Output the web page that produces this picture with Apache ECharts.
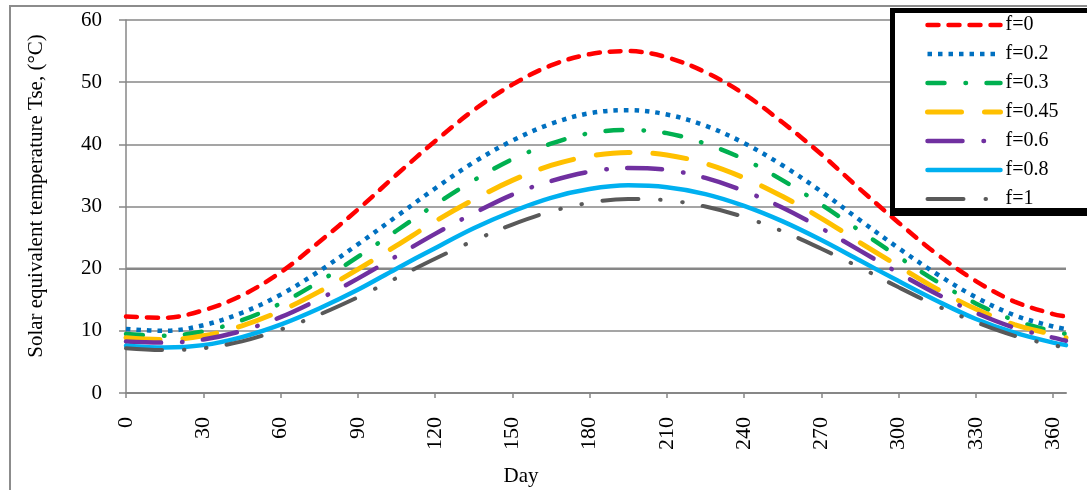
<!DOCTYPE html>
<html><head><meta charset="utf-8">
<script src="https://cdn.jsdelivr.net/npm/echarts@6/dist/echarts.min.js"></script>
<style>html,body{margin:0;padding:0;background:#fff}#c{width:1087px;height:490px}</style>
</head><body><div id="c"></div>
<script>
// ---- data ----
const days = [0,15,30,45,60,75,90,105,120,135,150,165,180,195,210,225,240,255,270,285,300,315,330,345,360,365];
const f0   = [12.3,12.1,13.3,15.7,19.4,24.3,29.5,35.1,40.5,45.5,49.6,52.7,54.5,55.0,54.0,51.6,48.1,43.5,38.4,32.8,27.4,22.3,18.0,14.7,12.7,12.3];
const f02  = [10.3,10.0,10.9,12.9,15.8,19.6,23.9,28.4,32.9,37.1,40.6,43.3,45.0,45.5,44.8,43.0,40.2,36.6,32.4,27.8,23.3,19.1,15.4,12.5,10.7,10.3];
const f03  = [9.5,9.2,9.9,11.7,14.4,17.9,21.9,26.1,30.3,34.2,37.6,40.1,41.8,42.3,41.8,40.1,37.6,34.2,30.3,26.1,21.9,17.9,14.4,11.7,9.9,9.5];
const f045 = [8.9,8.6,9.2,10.8,13.2,16.3,19.9,23.7,27.6,31.1,34.2,36.6,38.1,38.7,38.3,36.9,34.6,31.6,28.1,24.2,20.4,16.7,13.5,11.0,9.4,8.9];
const f06  = [8.3,8.1,8.6,10.0,12.2,15.1,18.4,22.0,25.6,28.9,31.9,34.1,35.6,36.2,35.9,34.6,32.5,29.8,26.5,22.9,19.3,15.9,12.9,10.5,8.9,8.4];
const f08  = [7.6,7.3,7.7,9.0,11.0,13.6,16.6,20.0,23.3,26.5,29.2,31.4,32.8,33.4,33.1,32.0,30.1,27.6,24.6,21.3,18.0,14.8,11.9,9.7,8.1,7.7];
const f1   = [7.2,6.9,7.2,8.3,10.2,12.6,15.4,18.5,21.6,24.5,27.1,29.2,30.6,31.2,31.0,30.0,28.3,26.0,23.2,20.2,17.0,14.0,11.4,9.2,7.7,7.3];
const seriesNames = ['f=0','f=0.2','f=0.3','f=0.45','f=0.6','f=0.8','f=1'];
const dayTicks = [0,30,60,90,120,150,180,210,240,270,300,330,360];
const dayRange = [0,365];
const tempRange = [0,60];
const tempStep = 10;
const emphasisGridValue = 20;
const yTitle = 'Solar equivalent temperature Tse, (°C)';
const xTitle = 'Day';

// ---- styling ----
const valueSets = [f0,f02,f03,f045,f06,f08,f1];
const styles = [
  {color:'#FF0000', width:4.5, type:[11,10], cap:'round'},
  {color:'#0070C0', width:4.5, type:[4.5,6], cap:'butt'},
  {color:'#00B050', width:4.5, type:[17,21,0.5,20.5], cap:'round'},
  {color:'#FFC000', width:5,   type:[34,23], cap:'round'},
  {color:'#7030A0', width:4.5, type:[35,21,0.5,20.5], cap:'round'},
  {color:'#00B0F0', width:4.5, type:'solid', cap:'round'},
  {color:'#595959', width:4,   type:[36,22,0.5,21.5,0.5,20.5], cap:'round'}
];
const serif = '"Liberation Serif","Times New Roman",serif';
const gridGray = '#878787';

const series = valueSets.map((vals,i)=>({
  name: seriesNames[i], type:'line', smooth:0.35, symbol:'none', showSymbol:false,
  data: days.map((d,k)=>[d, vals[k]]),
  lineStyle:{color:styles[i].color, width:styles[i].width, type:styles[i].type, cap:styles[i].cap},
  itemStyle:{color:styles[i].color},
  z: 3, silent:true
}));
series.unshift({
  name:'grid20', type:'line', symbol:'none', silent:true, z:1,
  data: dayRange.map(d=>[d, emphasisGridValue]),
  lineStyle:{color:gridGray, width:2.5}
});

const chart = echarts.init(document.getElementById('c'), null, {renderer:'canvas'});
chart.setOption({
  animation:false,
  backgroundColor:'#fff',
  grid:{left:126, top:20, right:21, bottom:97},
  xAxis:{
    type:'value', min:dayRange[0], max:dayRange[1], interval:30,
    axisLine:{show:true, lineStyle:{color:gridGray, width:2}},
    axisTick:{show:true, length:5, customValues:dayTicks, lineStyle:{color:gridGray, width:1.5}},
    axisLabel:{customValues:dayTicks, rotate:90, margin:24, fontFamily:serif, fontSize:22, color:'#000'},
    splitLine:{show:false}
  },
  yAxis:{
    type:'value', min:tempRange[0], max:tempRange[1], interval:tempStep,
    axisLine:{show:true, lineStyle:{color:gridGray, width:1.5}},
    axisTick:{show:true, length:7, lineStyle:{color:gridGray, width:1.5}},
    axisLabel:{margin:24, fontFamily:serif, fontSize:21, color:'#000'},
    splitLine:{show:true, lineStyle:{color:gridGray, width:1.5}}
  },
  legend:{
    data:seriesNames, orient:'vertical', left:925, top:15, padding:0,
    itemWidth:73, itemHeight:20, itemGap:9, selectedMode:false, z:20,
    itemStyle:{opacity:0},
    lineStyle:{width:'inherit', type:'inherit', cap:'inherit'},
    textStyle:{fontFamily:serif, fontSize:20, color:'#000'}
  },
  graphic:[
    {type:'rect', z:0, shape:{x:10, y:6, width:1100, height:500}, style:{fill:'none', stroke:'#8c8c8c', lineWidth:2}},
    {type:'rect', z:10, shape:{x:890, y:8, width:210, height:208}, style:{fill:'#000'}},
    {type:'rect', z:11, shape:{x:895, y:13, width:210, height:195}, style:{fill:'#fff'}},
    {type:'text', z:5, x:36, y:196, rotation:Math.PI/2,
     style:{text:yTitle, font:'21px "Liberation Serif"', fill:'#000', align:'center', verticalAlign:'middle'}},
    {type:'text', z:5, x:521, y:476,
     style:{text:xTitle, font:'21px "Liberation Serif"', fill:'#000', align:'center', verticalAlign:'middle'}}
  ],
  series: series
});
</script></body></html>
